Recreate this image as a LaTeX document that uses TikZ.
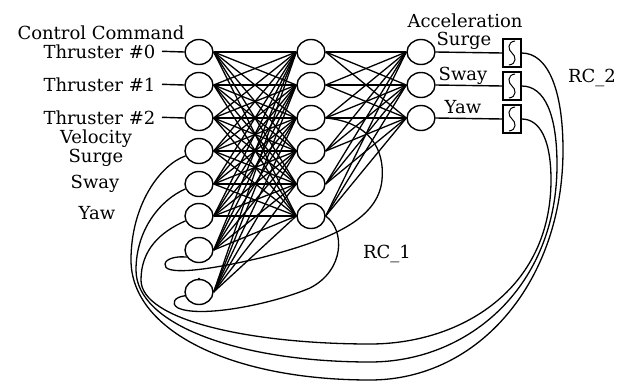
\documentclass[tikz,border=0pt]{standalone}
\usepackage{fontspec}
\setmainfont{DejaVu Serif}
\usetikzlibrary{shapes.geometric}
\begin{document}
\begin{tikzpicture}[x=1pt,y=-1pt, line width=1.4pt,
  neuron/.style={draw, ellipse, minimum width=28pt, minimum height=25pt, inner sep=0pt},
  filt/.style={draw, rectangle, minimum width=18pt, minimum height=28pt, inner sep=0pt, line width=1.2pt},
  lbl/.style={font=\fontsize{18}{20}\selectfont, inner sep=0pt, anchor=base},
  thr/.style={font=\fontsize{18}{20}\selectfont, inner ysep=0pt, inner xsep=6pt, anchor=base east},
  link/.style={line width=1.3pt},
  fb/.style={line width=1.3pt}]
\useasboundingbox (0,0) rectangle (624,383);
% layers
\foreach \i/\y in {1/52,2/85,3/118,4/151,5/184,6/216,7/250,8/292}
  \node[neuron] (i\i) at (199,\y) {};
\foreach \j/\y in {1/52,2/85,3/118,4/151,5/184,6/216}
  \node[neuron] (h\j) at (311,\y) {};
\foreach \k/\y in {1/52,2/85,3/118}
  \node[neuron] (o\k) at (421,\y) {};
\foreach \k/\y in {1/53,2/86,3/119}
  \node[filt] (f\k) at (512,\y) {};
% full connections
\foreach \i in {1,...,8}
  \foreach \j in {1,...,6}
    \draw[link] (i\i.east) -- (h\j.west);
\foreach \j in {1,...,6}
  \foreach \k in {1,2,3}
    \draw[link] (h\j.east) -- (o\k.west);
\foreach \k in {1,2,3}
  \draw (o\k.east) -- (f\k.west);
% integrator squiggles
\foreach \k in {1,2,3}
  \draw[line width=1pt] ([shift={(3,-12)}]f\k.center)
    .. controls ([shift={(-5,-11)}]f\k.center) and ([shift={(-4,-3)}]f\k.center) .. (f\k.center)
    .. controls ([shift={(4,3)}]f\k.center) and ([shift={(5,11)}]f\k.center) .. ([shift={(-3,12)}]f\k.center);
% labels
\node[lbl] (cc) at (101,39) {Control Command};
\node[thr] (t0) at (162,58) {Thruster \#0};
\node[thr] (t1) at (162,91) {Thruster \#1};
\node[thr] (t2) at (162,124) {Thruster \#2};
\draw (t0.east) -- (i1.west);
\draw (t1.east) -- (i2.west);
\draw (t2.east) -- (i3.west);
\node[lbl] (vel) at (96,143) {Velocity};
\node[lbl] (vsu) at (96,162) {Surge};
\node[lbl] (vsw) at (95,188) {Sway};
\node[lbl] (vya) at (97,219) {Yaw};
\node[lbl] (acc) at (465,27) {Acceleration};
\node[lbl] (asu) at (464,45) {Surge};
\node[lbl] (asw) at (463,80) {Sway};
\node[lbl] (aya) at (463,113) {Yaw};
\node[lbl] (rc2) at (592,82) {RC\_2};
\node[lbl] (rc1) at (387,258) {RC\_1};
% dot
\fill (199,279) circle (1.3);
% RC_2 feedback curves
\draw[fb] (f1.east) .. controls (548,53) and (563,90) .. (563,150)
  .. controls (563,280) and (480,380) .. (370,380)
  .. controls (230,380) and (131,330) .. (131,260)
  .. controls (131,205) and (160,165) .. (i4.200);
\draw[fb] (f2.east) .. controls (545,86) and (557,115) .. (557,165)
  .. controls (557,285) and (470,362) .. (370,362)
  .. controls (240,362) and (136,325) .. (136,270)
  .. controls (136,230) and (160,200) .. (i5.200);
\draw[fb] (f3.east) .. controls (540,119) and (551,140) .. (551,180)
  .. controls (551,290) and (460,344) .. (370,344)
  .. controls (250,344) and (141,320) .. (141,280)
  .. controls (141,250) and (160,232) .. (i6.200);
% RC_1 recurrent curves
\draw[fb] (h3.east) .. controls (370,122) and (385,150) .. (382,180)
  .. controls (378,220) and (330,240) .. (260,258)
  .. controls (200,272) and (163,275) .. (165,264)
  .. controls (166,258) and (178,256) .. (i7.210);
\draw[fb] (h6.east) .. controls (345,230) and (345,270) .. (310,288)
  .. controls (270,305) and (200,318) .. (178,308)
  .. controls (170,303) and (175,297) .. (i8.195);
\end{tikzpicture}
\end{document}
